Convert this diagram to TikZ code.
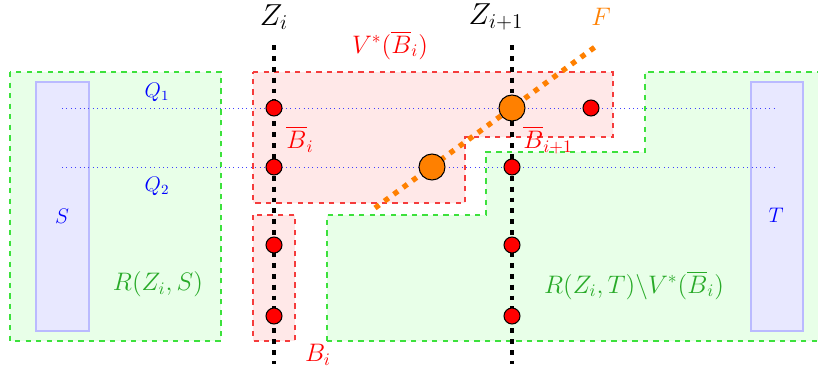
\documentclass[tikz,border=0pt]{standalone}
\usepackage{amsmath,amssymb}
\usepackage{xcolor}
\usepackage{tikz}
\usetikzlibrary{arrows.meta,positioning,calc}
\definecolor{RegG}{RGB}{60,225,60}
\definecolor{RegR}{RGB}{245,60,60}
\definecolor{TxtG}{RGB}{40,170,40}
\definecolor{FOr}{RGB}{255,128,0}
\tikzset{
  vtx/.style={circle,draw=black,line width=0.6pt,fill=red,minimum size=0.32cm,inner sep=0pt},
  fvtx/.style={vtx,fill=FOr,minimum size=0.52cm},
  zline/.style={line width=2.8pt,dash pattern=on 2.8pt off 3.4pt},
  fline/.style={line width=3pt,dash pattern=on 3pt off 3.6pt,FOr},
  qline/.style={dotted,line width=0.5pt,blue!75},
  gregion/.style={dashed,line width=0.6pt,draw=RegG,fill=green!9},
  rregion/.style={dashed,line width=0.6pt,draw=RegR,fill=red!9},
  sbox/.style={draw=blue!27,line width=0.6pt,fill=blue!9},
  zlab/.style={font=\LARGE},
  rlab/.style={text=red,font=\Large},
  glab/.style={text=TxtG,font=\Large},
  blab/.style={text=blue,font=\large},
}

\begin{document}
\begin{tikzpicture}[x=0.02cm,y=-0.02cm]
  \useasboundingbox (0,0) rectangle (818,369);

  \draw[gregion] (10,72) rectangle (221,341);
  \draw[gregion] (327,341) -- (327,215) -- (486,215) -- (486,152) -- (645,152)
                 -- (645,72) -- (830,72) -- (830,341) -- cycle;
  \draw[rregion] (253,72) -- (613,72) -- (613,137) -- (465,137) -- (465,203)
                 -- (253,203) -- cycle;
  \draw[rregion] (253,215) rectangle (295,341);
  \draw[sbox] (36,82) rectangle (89,331);
  \draw[sbox] (751,82) rectangle (803,331);

  \node[blab] (s) at (62,216) {$S$};
  \node[blab] (t) at (776,215) {$T$};
  \node[blab] (q1) at (157,92) {$Q_1$};
  \node[blab] (q2) at (157,186) {$Q_2$};
  \node[glab] (rs) at (158,284) {$R(Z_i,S)$};
  \node[glab] (rt) at (634,285) {$R(Z_i,T)\backslash V^*(\overline{B}_i)$};
  \node[rlab] (vb) at (390,45) {$V^*(\overline{B}_i)$};
  \node[rlab] (bbi) at (300,139) {$\overline{B}_i$};
  \node[rlab] (bbj) at (548,140) {$\overline{B}_{i+1}$};
  \node[rlab] (bi) at (318,355) {$B_i$};
  \node[zlab] (lzi) at (274,17) {$Z_i$};
  \node[zlab] (lzj) at (496,17) {$Z_{i+1}$};
  \node[text=FOr,font=\Large] (lf) at (601,17) {$F$};

  \coordinate (q1s) at (62,108);  \coordinate (q1e) at (776,108);
  \coordinate (q2s) at (62,167);  \coordinate (q2e) at (776,167);
  \draw[qline] (q1s) -- (q1e);
  \draw[qline] (q2s) -- (q2e);

  \coordinate (zit) at (274,45);  \coordinate (zib) at (274,364);
  \coordinate (zjt) at (512,45);  \coordinate (zjb) at (512,364);
  \draw[zline] (zit) -- (zib);
  \draw[zline] (zjt) -- (zjb);

  \coordinate (fs) at (375,208);  \coordinate (fe) at (595,47);
  \draw[fline] (fs) -- (fe);

  \foreach \y/\n in {108/1,167/2,245/3,316/4}
    \node[vtx] (zi\n) at (274,\y) {};
  \foreach \y/\n in {167/2,245/3,316/4}
    \node[vtx] (zj\n) at (512,\y) {};
  \node[fvtx] (zj1) at (512,108) {};
  \node[fvtx] (fq2) at (432,167) {};
  \node[vtx] (vq1) at (591,108) {};
\end{tikzpicture}
\end{document}
